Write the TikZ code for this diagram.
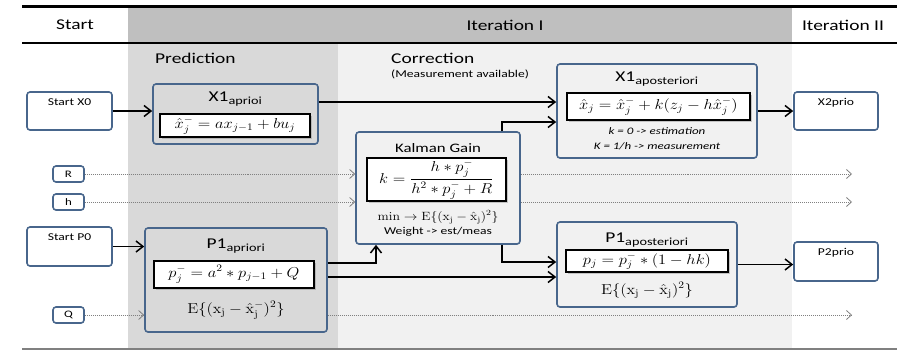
\documentclass[tikz,border=0pt]{standalone}
\usepackage{amsmath}
\usepackage[no-math]{fontspec}
\setmainfont[FakeStretch=1.3]{Carlito}
\usetikzlibrary{arrows.meta,positioning,calc,shadows}

\definecolor{boxblue}{RGB}{72,102,140}
\definecolor{hdrgray}{RGB}{191,191,191}
\definecolor{predgray}{RGB}{217,217,217}
\definecolor{corrgray}{RGB}{241,241,241}

% math in the formula boxes is widened a little like the labels
\newcommand{\wideeq}[1]{\scalebox{1.15}[1]{$\displaystyle #1$}}
\newcommand{\lowtext}[1]{\textsubscript{\fontsize{11}{12}\selectfont #1}}

\begin{document}
\begin{tikzpicture}[x=1bp, y=-1bp, every node/.style={inner sep=0pt},
  stage/.style={draw=boxblue, line width=1.6bp, rounded corners=3bp},
  formula/.style={draw=black, line width=1.8bp, fill=white, font=\fontsize{14.5}{16}\selectfont,
    drop shadow={shadow xshift=1.5bp, shadow yshift=-1.5bp, opacity=0.4}},
  flow/.style={line width=1.5bp, -{Straight Barb[length=7bp, width=11bp, line width=1.5bp]}},
  given/.style={gray, line width=1bp, densely dotted, -{Straight Barb[length=5bp, width=9bp, line width=0.8bp]}},
  head/.style={font=\fontsize{15}{18}\selectfont},
  title/.style={font=\fontsize{15}{18}\selectfont},
  small/.style={font=\fontsize{10.5}{12}\selectfont},
  note/.style={font=\fontsize{10}{12}\selectfont}]
\useasboundingbox (0,0) rectangle (897,354);

% columns and header
\fill[hdrgray] (128,8) rectangle (792,43);
\fill[predgray] (128,43) rectangle (338,349);
\fill[corrgray] (338,43) rectangle (792,349);
\draw[line width=3bp] (22,6) -- (897,6);
\draw[line width=1.4bp] (22,43) -- (897,43);
\draw[line width=1.2bp, gray] (22,349) -- (897,349);

\node[head] (hstart) at (75,25) {Start};
\node[head] (hiter) at (505,25) {Iteration I};
\node[head] (hitertwo) at (843,25) {Iteration II};
\node[head, anchor=west] (hpred) at (155,58) {Prediction};
\node[head, anchor=west] (hcorr) at (391,58) {Correction};
\node[font=\fontsize{10.5}{12}\selectfont, anchor=west] (hmeas) at (391,74) {(Measurement available)};

% start values and inputs
\node[stage, minimum width=85bp, minimum height=38bp] (startx) at (69.5,111) {};
\node[small, below=7bp of startx.north] (startxlbl) {Start X0};
\node[stage, minimum width=85bp, minimum height=39bp] (startp) at (69.5,246.5) {};
\node[small, below=7bp of startp.north] (startplbl) {Start P0};
\node[stage, note, minimum width=31bp, minimum height=16bp] (rbox) at (68.5,174) {R};
\node[stage, note, minimum width=31bp, minimum height=16bp] (hbox) at (68.5,202) {h};
\node[stage, note, minimum width=31bp, minimum height=16bp] (qbox) at (68.5,315) {Q};

% prediction
\node[stage, minimum width=165bp, minimum height=60bp] (xapri) at (235.5,114) {};
\node[title] (xapritle) at (235.5,99) {X1\lowtext{aprioi}};
\node[formula, minimum width=150bp, minimum height=23bp] (xaprieq) at (235,125.5)
  {\wideeq{\hat{x}_j^- = a x_{j-1} + b u_j}};

\node[stage, minimum width=182bp, minimum height=104bp] (papri) at (236,280) {};
\node[title] (papritle) at (236,246) {P1\lowtext{apriori}};
\node[formula, minimum width=160bp, minimum height=27bp] (paprieq) at (234,274.5)
  {\wideeq{p_j^- = a^2 * p_{j-1} + Q}};
\node[font=\fontsize{14}{16}\selectfont] (papriexp) at (236,310)
  {\wideeq{\mathrm{E}\{(\mathrm{x_j}-\hat{\mathrm{x}}_\mathrm{j}^-)^2\}}};

% correction
\node[stage, minimum width=164bp, minimum height=112bp] (kalman) at (438,188) {};
\node[font=\fontsize{13}{15}\selectfont] (kgtitle) at (438,148) {Kalman Gain};
\node[formula, minimum width=139bp, minimum height=43bp] (kgeq) at (436.5,179.5)
  {\wideeq{k = \frac{h * p_j^-}{h^2 * p_j^- + R}}};
\node[font=\fontsize{11.5}{13}\selectfont] (kgmin) at (438,217)
  {\wideeq{\mathrm{min} \rightarrow \mathrm{E}\{(\mathrm{x_j}-\hat{\mathrm{x}}_\mathrm{j})^2\}}};
\node[note, font=\fontsize{10.5}{12}\selectfont] (kgwt) at (438,232) {Weight -> est/meas};

\node[stage, minimum width=200bp, minimum height=94bp] (xpost) at (657,111) {};
\node[title] (xposttle) at (657,79) {X1\lowtext{aposteriori}};
\node[formula, minimum width=183bp, minimum height=27bp] (xposteq) at (658.5,106.5)
  {\wideeq{\hat{x}_j = \hat{x}_j^- + k(z_j - h\hat{x}_j^-)}};
\node[note, font=\fontsize{10}{12}\selectfont\itshape] (xpnote) at (657,131) {k = 0 -> estimation};
\node[note, font=\fontsize{10}{12}\selectfont\itshape] (xpnotek) at (657,146) {K = 1/h -> measurement};

\node[stage, minimum width=180bp, minimum height=85bp] (ppost) at (647,264.5) {};
\node[title] (pposttle) at (647,240) {P1\lowtext{aposteriori}};
\node[formula, minimum width=162bp, minimum height=22bp] (pposteq) at (647,261)
  {\wideeq{p_j = p_j^- * (1 - hk)}};
\node[font=\fontsize{14}{16}\selectfont] (ppostexp) at (647,290)
  {\wideeq{\mathrm{E}\{(\mathrm{x_j}-\hat{\mathrm{x}}_\mathrm{j})^2\}}};

% next iteration
\node[stage, minimum width=84bp, minimum height=38bp] (xnext) at (836,111) {};
\node[small, below=7bp of xnext.north] (xnextlbl) {X2prio};
\node[stage, minimum width=84bp, minimum height=39bp] (pnext) at (836,261.5) {};
\node[small, below=7bp of pnext.north] (pnextlbl) {P2prio};

\coordinate (rend) at (852,174);
\coordinate (hend) at (852,202);
\coordinate (qend) at (852,315);

% flow of the estimates
\draw[flow] (startx.east) -- (startx.east -| xapri.west);
\draw[flow] ([yshift=12bp]xapri.east) -- ([yshift=12bp]xapri.east -| xpost.west);
\draw[flow] ([xshift=64bp]kalman.north) |- ([yshift=-11bp]xpost.west);
\draw[flow] (xpost.east) -- (xpost.east -| xnext.west);
\draw[flow] (startp.east) -- (startp.east -| papri.west);
\draw[flow] ([yshift=17bp]papri.east) -| ([xshift=-62bp]kalman.south);
\draw[flow] ([yshift=3bp]papri.east) -- ([yshift=3bp]papri.east -| ppost.west);
\draw[flow] ([xshift=64bp]kalman.south) |- ([yshift=2.5bp]ppost.west);
\draw[flow] (ppost.east) -- (ppost.east -| pnext.west);

% constants passed on
\draw[given] (rbox) -- (rbox -| kalman.west);
\draw[given] (rbox -| kalman.east) -- (rend);
\draw[given] (hbox) -- (hbox -| kalman.west);
\draw[given] (hbox -| kalman.east) -- (hend);
\draw[given] (qbox) -- (qbox -| papri.west);
\draw[given] (qbox -| papri.east) -- (qend);
\end{tikzpicture}
\end{document}
